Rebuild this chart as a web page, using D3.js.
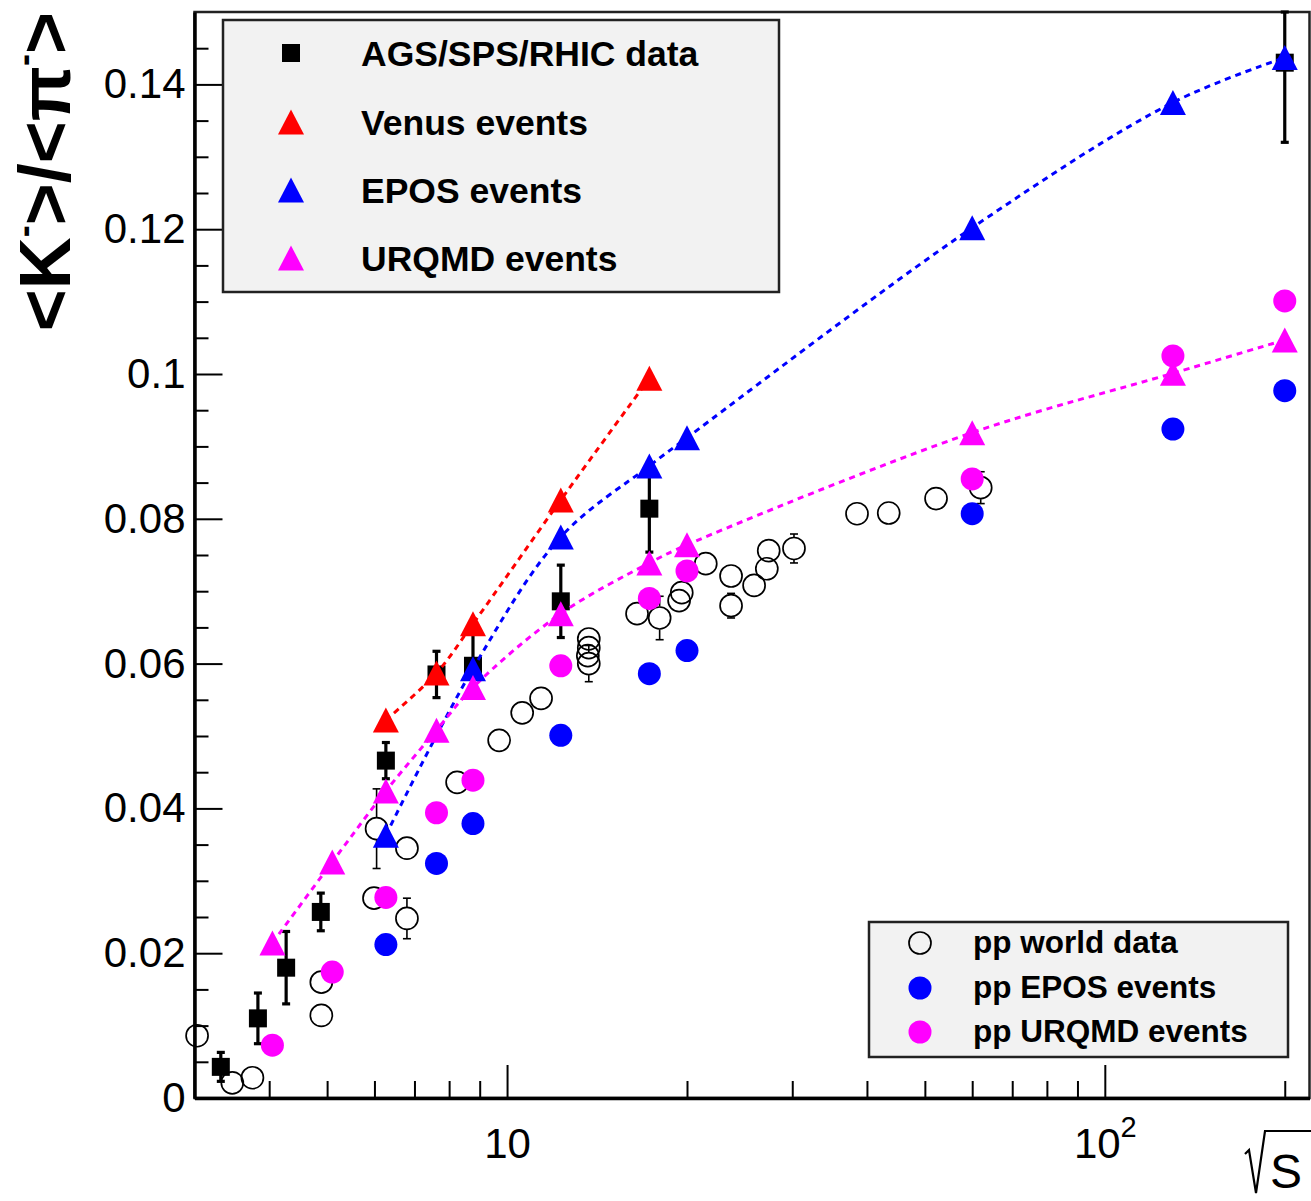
<!DOCTYPE html>
<html>
<head>
<meta charset="utf-8">
<script src="https://cdn.jsdelivr.net/npm/d3@7"></script>
<style>
  html, body { margin: 0; padding: 0; background: #fff; }
  svg { display: block; font-family: "Liberation Sans", Arial, Helvetica, sans-serif; }
</style>
</head>
<body>
<svg id="chart" width="1311" height="1201"></svg>
<script>
// ---- K-/pi- ratio versus sqrt(s) ----

// AGS / SPS / RHIC heavy-ion measurements
const hiSqrtS   = [3.32, 3.83, 4.27, 4.88, 6.27, 7.62, 8.77, 12.3, 17.3, 200];
const hiRatio   = [0.0043, 0.0110, 0.0180, 0.0257, 0.0466, 0.0585, 0.0597, 0.0686, 0.0814, 0.1430];
const hiErrLow  = [0.0020, 0.0035, 0.0050, 0.0026, 0.0025, 0.0032, 0.0045, 0.0050, 0.0060, 0.0110];
const hiErrHigh = [0.0020, 0.0035, 0.0050, 0.0026, 0.0025, 0.0032, 0.0045, 0.0050, 0.0060, 0.0070];

// Model calculations, nucleus-nucleus
const venusSqrtS = [6.27, 7.62, 8.77, 12.3, 17.3];
const venusRatio = [0.0522, 0.0587, 0.0655, 0.0826, 0.0994];
const eposSqrtS  = [6.27, 8.77, 12.3, 17.3, 20, 60, 130, 200];
const eposRatio  = [0.0363, 0.0593, 0.0775, 0.0873, 0.0912, 0.1202, 0.1375, 0.1437];
const urqmdSqrtS = [4.05, 5.1, 6.27, 7.62, 8.77, 12.3, 17.3, 20, 60, 130, 200];
const urqmdRatio = [0.0214, 0.0326, 0.0424, 0.0508, 0.0567, 0.0669, 0.0739, 0.0764, 0.0919, 0.1001, 0.1047];

// pp world data
const ppWorldSqrtS = [3.03, 3.47, 3.75, 4.89, 4.89, 5.99, 6.05, 6.8, 6.8, 8.25, 9.7, 10.6, 11.4,
                      13.7, 13.7, 13.65, 13.7, 16.5, 18.0, 19.4, 19.6, 21.5, 23.7, 23.7, 25.9,
                      27.2, 27.4, 30.2, 38.5, 43.5, 52.2, 62.0];
const ppWorldRatio = [0.0086, 0.0021, 0.0028, 0.0114, 0.0160, 0.0276, 0.0372, 0.0345, 0.0248, 0.0436,
                      0.0494, 0.0532, 0.0552, 0.0634, 0.0622, 0.0611, 0.0600, 0.0669, 0.0663, 0.0687,
                      0.0698, 0.0738, 0.0721, 0.0680, 0.0708, 0.0731, 0.0756, 0.0759, 0.0807, 0.0808,
                      0.0828, 0.0843];
const ppWorldErr   = [0, 0, 0, 0, 0, 0, 0.0055, 0, 0.0028, 0, 0.0013, 0, 0, 0.0010, 0, 0, 0.0025,
                      0, 0.0030, 0, 0, 0, 0, 0.0017, 0, 0, 0, 0.0020, 0, 0, 0, 0.0022];

// Model calculations, pp
const ppEposSqrtS  = [6.27, 7.62, 8.77, 12.3, 17.3, 20, 60, 130, 200];
const ppEposRatio  = [0.0212, 0.0324, 0.0379, 0.0501, 0.0586, 0.0618, 0.0807, 0.0924, 0.0977];
const ppUrqmdSqrtS = [4.05, 5.1, 6.27, 7.62, 8.77, 12.3, 17.3, 20, 60, 130, 200];
const ppUrqmdRatio = [0.0073, 0.0174, 0.0277, 0.0394, 0.0439, 0.0597, 0.0690, 0.0728, 0.0855, 0.1025, 0.1101];

// Axis ticks
const xMajorTicks  = [10, 100];
const xTickLabels  = ["10", "10^2"];
const xMinorTicks  = [3, 4, 5, 6, 7, 8, 9, 20, 30, 40, 50, 60, 70, 80, 90, 200];
const yMajorTicks  = [0, 0.02, 0.04, 0.06, 0.08, 0.1, 0.12, 0.14];
const yTickLabels  = ["0", "0.02", "0.04", "0.06", "0.08", "0.1", "0.12", "0.14"];
const yMinorTicks  = [0.005, 0.01, 0.015, 0.025, 0.03, 0.035, 0.045, 0.05, 0.055, 0.065, 0.07, 0.075,
                      0.085, 0.09, 0.095, 0.105, 0.11, 0.115, 0.125, 0.13, 0.135, 0.145];

// Legend entries
const legendAA = ["AGS/SPS/RHIC data", "Venus events", "EPOS events", "URQMD events"];
const legendPP = ["pp world data", "pp EPOS events", "pp URQMD events"];

const RED = "#ff0000", BLUE = "#0000ff", MAGENTA = "#ff00ff";

const svg = d3.select("#chart");
svg.append("rect").attr("width", 1311).attr("height", 1201).attr("fill", "#fff");

const x = d3.scaleLog().domain([3, 220]).range([194.5, 1309.5]);
const y = d3.scaleLinear().domain([0, 0.15]).range([1098, 12]);

const zip = (xs, ys) => xs.map((v, i) => ({ x: v, y: ys[i], i }));

// frame
svg.append("rect")
  .attr("x", x.range()[0]).attr("y", y.range()[1])
  .attr("width", x.range()[1] - x.range()[0])
  .attr("height", y.range()[0] - y.range()[1])
  .attr("fill", "none").attr("stroke", "#222").attr("stroke-width", 2.5);

// axes
function styleAxis(g) {
  g.attr("font-family", null).attr("font-size", null);
  g.selectAll(".tick line").attr("stroke", "#000").attr("stroke-width", 2);
  g.selectAll(".tick text").attr("fill", "#000").attr("font-size", 42);
}

const gxMinor = svg.append("g").attr("transform", `translate(0,${y.range()[0]})`)
  .call(d3.axisBottom(x).tickValues(xMinorTicks).tickSize(-17).tickSizeOuter(0).tickFormat(""));
gxMinor.select(".domain").remove();
styleAxis(gxMinor);

const gx = svg.append("g").attr("transform", `translate(0,${y.range()[0]})`)
  .call(d3.axisBottom(x).tickValues(xMajorTicks).tickSize(-33).tickSizeOuter(0).tickPadding(30)
    .tickFormat((d, i) => xTickLabels[i]));
styleAxis(gx);
gx.select(".domain").attr("stroke", "#000").attr("stroke-width", 3.5);
gx.selectAll(".tick text").each(function (d, i) {
  const lab = xTickLabels[i];
  if (lab.includes("^")) {
    const [base, exp] = lab.split("^");
    const t = d3.select(this).text(base);
    t.append("tspan").attr("font-size", 29).attr("dy", "-0.72em").text(exp);
  }
});

const gyMinor = svg.append("g").attr("transform", `translate(${x.range()[0]},0)`)
  .call(d3.axisLeft(y).tickValues(yMinorTicks).tickSize(-14).tickSizeOuter(0).tickFormat(""));
gyMinor.select(".domain").remove();
styleAxis(gyMinor);

const gy = svg.append("g").attr("transform", `translate(${x.range()[0]},0)`)
  .call(d3.axisLeft(y).tickValues(yMajorTicks).tickSize(-28).tickSizeOuter(0).tickPadding(9)
    .tickFormat((d, i) => yTickLabels[i]));
styleAxis(gy);
gy.select(".domain").attr("stroke", "#000").attr("stroke-width", 3.5);

// axis titles
const yTitle = svg.append("text")
  .attr("transform", `translate(70,${y.range()[1]}) rotate(-90)`)
  .attr("text-anchor", "end").attr("font-size", 72).attr("font-weight", "bold").attr("fill", "#000");
yTitle.append("tspan").text("<K");
yTitle.append("tspan").attr("font-size", 36).attr("dy", -34).text("-");
yTitle.append("tspan").attr("dy", 34).text(">/<\u03c0");
yTitle.append("tspan").attr("font-size", 36).attr("dy", -34).text("-");
yTitle.append("tspan").attr("dy", 34).text(">");

// sqrt(s) title: radical sign + S
svg.append("path")
  .attr("d", "M1245,1154 L1249,1150 L1256,1193 L1265,1131 L1311,1131")
  .attr("fill", "none").attr("stroke", "#000").attr("stroke-width", 2.2).attr("stroke-linejoin", "miter");
svg.append("text").attr("x", 1270).attr("y", 1188).attr("font-size", 48).attr("fill", "#000").text("S");

// marker shapes
const TRI_W = 26, TRI_H = 25, SQ = 18, CIRC_R = 11.5;
const triPath = `M0,${-TRI_H / 2}L${TRI_W / 2},${TRI_H / 2}L${-TRI_W / 2},${TRI_H / 2}Z`;

// error bar helper (vertical, with caps, gap around the marker)
function errorBars(g, pts, lo, hi, gap, width, cap, color) {
  pts.forEach(p => {
    const cx = x(p.x), cy = y(p.y);
    const yl = y(p.y - lo[p.i]), yh = y(p.y + hi[p.i]);
    if (lo[p.i] <= 0 && hi[p.i] <= 0) return;
    if (yh < cy - gap) {
      g.append("line").attr("x1", cx).attr("x2", cx).attr("y1", cy - gap).attr("y2", yh)
        .attr("stroke", color).attr("stroke-width", width);
      g.append("line").attr("x1", cx - cap).attr("x2", cx + cap).attr("y1", yh).attr("y2", yh)
        .attr("stroke", color).attr("stroke-width", width);
    }
    if (yl > cy + gap) {
      g.append("line").attr("x1", cx).attr("x2", cx).attr("y1", cy + gap).attr("y2", yl)
        .attr("stroke", color).attr("stroke-width", width);
      g.append("line").attr("x1", cx - cap).attr("x2", cx + cap).attr("y1", yl).attr("y2", yl)
        .attr("stroke", color).attr("stroke-width", width);
    }
  });
}

const plot = svg.append("g");

// pp world data: open circles
const ppWorld = zip(ppWorldSqrtS, ppWorldRatio);
const gWorld = plot.append("g");
errorBars(gWorld, ppWorld, ppWorldErr, ppWorldErr, CIRC_R, 1.6, 4, "#000");
gWorld.selectAll("circle").data(ppWorld).join("circle")
  .attr("cx", d => x(d.x)).attr("cy", d => y(d.y)).attr("r", CIRC_R - 0.5)
  .attr("fill", "none").attr("stroke", "#000").attr("stroke-width", 1.7);

// heavy-ion data: filled squares
const hiData = zip(hiSqrtS, hiRatio);
const gHI = plot.append("g");
errorBars(gHI, hiData, hiErrLow, hiErrHigh, 0, 3.2, 4, "#000");
gHI.selectAll("rect").data(hiData).join("rect")
  .attr("x", d => x(d.x) - SQ / 2).attr("y", d => y(d.y) - SQ / 2)
  .attr("width", SQ).attr("height", SQ).attr("fill", "#000");

// pp model points: filled circles
[[ppEposSqrtS, ppEposRatio, BLUE], [ppUrqmdSqrtS, ppUrqmdRatio, MAGENTA]].forEach(([xs, ys, c]) => {
  plot.append("g").selectAll("circle").data(zip(xs, ys)).join("circle")
    .attr("cx", d => x(d.x)).attr("cy", d => y(d.y)).attr("r", CIRC_R).attr("fill", c);
});

// nucleus-nucleus model curves + triangles
const curve = d3.line().x(d => x(d.x)).y(d => y(d.y)).curve(d3.curveCatmullRom.alpha(0.5));
[[venusSqrtS, venusRatio, RED], [eposSqrtS, eposRatio, BLUE], [urqmdSqrtS, urqmdRatio, MAGENTA]]
  .forEach(([xs, ys, c]) => {
    const pts = zip(xs, ys);
    plot.append("path").datum(pts).attr("d", curve)
      .attr("fill", "none").attr("stroke", c).attr("stroke-width", 3)
      .attr("stroke-dasharray", "6,5");
  });
[[venusSqrtS, venusRatio, RED], [eposSqrtS, eposRatio, BLUE], [urqmdSqrtS, urqmdRatio, MAGENTA]]
  .forEach(([xs, ys, c]) => {
    plot.append("g").selectAll("path").data(zip(xs, ys)).join("path")
      .attr("transform", d => `translate(${x(d.x)},${y(d.y)})`)
      .attr("d", triPath).attr("fill", c);
  });

// legend: nucleus-nucleus
const lg1 = svg.append("g");
lg1.append("rect").attr("x", 223).attr("y", 20).attr("width", 556).attr("height", 272)
  .attr("fill", "#f2f2f2").attr("stroke", "#222").attr("stroke-width", 2.5);
const lg1Rows = [53, 122, 190, 258];
const lg1Colors = ["#000", RED, BLUE, MAGENTA];
legendAA.forEach((lab, i) => {
  const ry = lg1Rows[i];
  if (i === 0) {
    lg1.append("rect").attr("x", 291 - SQ / 2).attr("y", ry - SQ / 2).attr("width", SQ).attr("height", SQ)
      .attr("fill", "#000");
  } else {
    lg1.append("path").attr("transform", `translate(291,${ry})`).attr("d", triPath).attr("fill", lg1Colors[i]);
  }
  lg1.append("text").attr("x", 361).attr("y", ry + 12.5).attr("font-size", 35.5)
    .attr("font-weight", "bold").attr("fill", "#000").text(lab);
});

// legend: pp
const lg2 = svg.append("g");
lg2.append("rect").attr("x", 869).attr("y", 922).attr("width", 419).attr("height", 135)
  .attr("fill", "#f2f2f2").attr("stroke", "#222").attr("stroke-width", 2.5);
const lg2Rows = [943, 988, 1032];
legendPP.forEach((lab, i) => {
  const ry = lg2Rows[i];
  const c = lg2.append("circle").attr("cx", 920).attr("cy", ry);
  if (i === 0) {
    c.attr("r", CIRC_R - 0.5).attr("fill", "none").attr("stroke", "#000").attr("stroke-width", 1.7);
  } else {
    c.attr("r", CIRC_R).attr("fill", i === 1 ? BLUE : MAGENTA);
  }
  lg2.append("text").attr("x", 973).attr("y", ry + 10).attr("font-size", 31.5)
    .attr("font-weight", "bold").attr("fill", "#000").text(lab);
});
</script>
</body>
</html>
